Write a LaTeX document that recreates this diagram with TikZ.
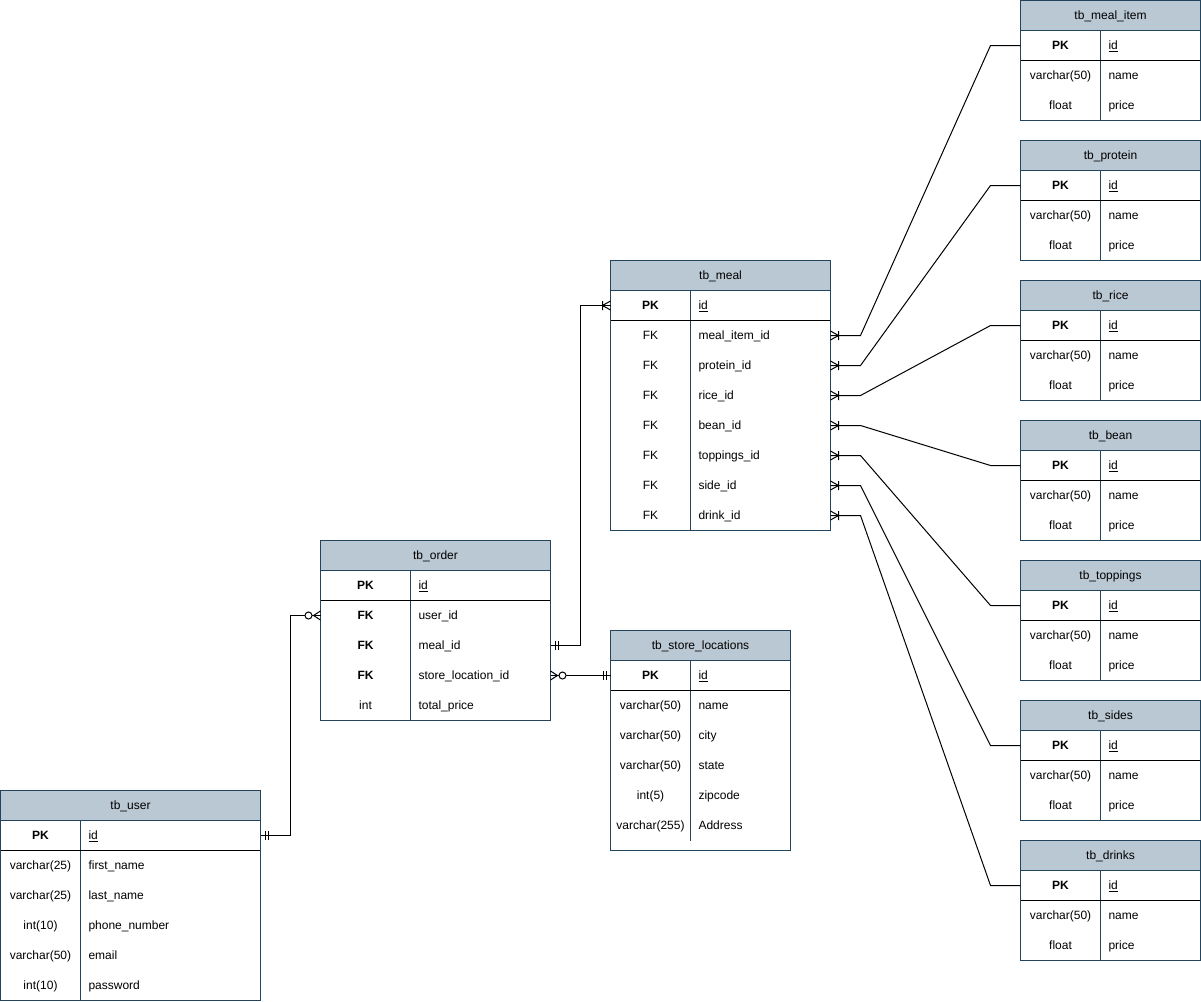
\documentclass[tikz,border=0pt]{standalone}
\usepackage{fontspec}
\setmainfont{Liberation Sans}
\usepackage{tikz}
\usetikzlibrary{calc}
\definecolor{hdrfill}{HTML}{BAC8D3}
\definecolor{tblblue}{HTML}{23445D}

% crow's foot ends
\pgfdeclarearrow{
  name = eronemany,
  setup code = {
    \pgfarrowssettipend{0pt}
    \pgfarrowssetlineend{0pt}
    \pgfarrowssetbackend{-9pt}
  },
  drawing code = {
    \pgfsetdash{}{0pt}
    \pgfpathmoveto{\pgfqpoint{0pt}{4.5pt}}
    \pgfpathlineto{\pgfqpoint{-8pt}{0pt}}
    \pgfpathlineto{\pgfqpoint{0pt}{-4.5pt}}
    \pgfpathmoveto{\pgfqpoint{-8pt}{4.5pt}}
    \pgfpathlineto{\pgfqpoint{-8pt}{-4.5pt}}
    \pgfusepathqstroke
  },
  defaults = {}
}
\pgfdeclarearrow{
  name = erzeromany,
  setup code = {
    \pgfarrowssettipend{0pt}
    \pgfarrowssetlineend{0pt}
    \pgfarrowssetbackend{-16pt}
  },
  drawing code = {
    \pgfsetdash{}{0pt}
    \pgfpathmoveto{\pgfqpoint{0pt}{4.5pt}}
    \pgfpathlineto{\pgfqpoint{-7pt}{0pt}}
    \pgfpathlineto{\pgfqpoint{0pt}{-4.5pt}}
    \pgfusepathqstroke
    \pgfsetfillcolor{white}
    \pgfpathcircle{\pgfqpoint{-12pt}{0pt}}{3.5pt}
    \pgfusepathqfillstroke
  },
  defaults = {}
}
\pgfdeclarearrow{
  name = ermandone,
  setup code = {
    \pgfarrowssettipend{0pt}
    \pgfarrowssetlineend{0pt}
    \pgfarrowssetbackend{-8pt}
  },
  drawing code = {
    \pgfsetdash{}{0pt}
    \pgfpathmoveto{\pgfqpoint{-4.5pt}{4.5pt}}
    \pgfpathlineto{\pgfqpoint{-4.5pt}{-4.5pt}}
    \pgfpathmoveto{\pgfqpoint{-7.5pt}{4.5pt}}
    \pgfpathlineto{\pgfqpoint{-7.5pt}{-4.5pt}}
    \pgfusepathqstroke
  },
  defaults = {}
}

% table: name, x, y, width, key width, title, rows, bottom pad
\newcommand{\ertable}[8]{%
  \pgfmathsetmacro{\ertfw}{#4-#5-16}%
  \node[tblhead, minimum width=#4pt, anchor=north west] (#1) at (#2,#3) {#6};
  \node[keycell, minimum width=#5pt, anchor=north west] (#1-k0) at (#1.south west) {\textbf{PK}};
  \node[fieldcell, text width=\ertfw pt, anchor=north west] (#1-f0) at (#1-k0.north east) {\underline{id}};
  \draw[tblline] (#1-k0.north east) -- (#1-k0.south east);
  \foreach \k/\f [count=\i] in {#7} {
    \pgfmathtruncatemacro{\j}{\i-1}
    \node[keycell, minimum width=#5pt, anchor=north west] (#1-k\i) at (#1-k\j.south west) {\k};
    \node[fieldcell, text width=\ertfw pt, anchor=north west] (#1-f\i) at (#1-k\i.north east) {\f};
    \draw[tblline] (#1-k\i.north east) -- (#1-k\i.south east);
    \xdef\ertlast{\i}
  }
  \draw[tblline] (#1.south west) -- (#1.south east);
  \draw[pkline] (#1-k0.south west) -- (#1-f0.south east);
  \draw[tblline] (#1.north west) rectangle ([yshift=-#8pt]#1-f\ertlast.south east);
}

\begin{document}
\begin{tikzpicture}[x=1pt, y=-1pt, line width=1pt,
    font=\fontsize{12}{14}\selectfont,
    ercell/.style={inner sep=0pt, outer sep=0pt, minimum height=30pt, text height=8.6pt, text depth=0pt},
    tblhead/.style={ercell, fill=hdrfill},
    keycell/.style={ercell},
    fieldcell/.style={ercell, inner xsep=8pt, align=left},
    tblline/.style={draw=tblblue},
    pkline/.style={draw=black},
    conn/.style={draw=black}]
    \useasboundingbox (-0.5,-0.5) rectangle (1200.5,1000.5);

    % lookup tables
    \ertable{mealitem}{1020}{0}{180}{80}{tb\_meal\_item}{varchar(50)/name, float/price}{0}
    \ertable{protein}{1020}{140}{180}{80}{tb\_protein}{varchar(50)/name, float/price}{0}
    \ertable{rice}{1020}{280}{180}{80}{tb\_rice}{varchar(50)/name, float/price}{0}
    \ertable{bean}{1020}{420}{180}{80}{tb\_bean}{varchar(50)/name, float/price}{0}
    \ertable{toppings}{1020}{560}{180}{80}{tb\_toppings}{varchar(50)/name, float/price}{0}
    \ertable{sides}{1020}{700}{180}{80}{tb\_sides}{varchar(50)/name, float/price}{0}
    \ertable{drinks}{1020}{840}{180}{80}{tb\_drinks}{varchar(50)/name, float/price}{0}

    % main tables
    \ertable{meal}{610}{260}{220}{80}{tb\_meal}{FK/meal\_item\_id, FK/protein\_id, FK/rice\_id, FK/bean\_id, FK/toppings\_id, FK/side\_id, FK/drink\_id}{0}
    \ertable{order}{320}{540}{230}{90}{tb\_order}{\textbf{FK}/user\_id, \textbf{FK}/meal\_id, \textbf{FK}/store\_location\_id, int/total\_price}{0}
    \ertable{store}{610}{630}{180}{80}{tb\_store\_locations}{varchar(50)/name, varchar(50)/city, varchar(50)/state, int(5)/zipcode, varchar(255)/Address}{10}
    \ertable{user}{0}{790}{260}{80}{tb\_user}{varchar(25)/first\_name, varchar(25)/last\_name, int(10)/phone\_number, varchar(50)/email, int(10)/password}{0}

    % relations
    \draw[conn, ermandone-erzeromany] (user-f0.east) -- ++(30,0) |- (order-k1.west);
    \draw[conn, ermandone-eronemany] (order-f2.east) -- ++(30,0) |- (meal-k0.west);
    \draw[conn, erzeromany-ermandone] (order-f3.east) -- (store-k0.west);
    \foreach \t [count=\i] in {mealitem,protein,rice,bean,toppings,sides,drinks}
        \draw[conn, eronemany-] (meal-f\i.east) -- ++(30,0) -- ([xshift=-30pt]\t-k0.west) -- (\t-k0.west);
\end{tikzpicture}
\end{document}
